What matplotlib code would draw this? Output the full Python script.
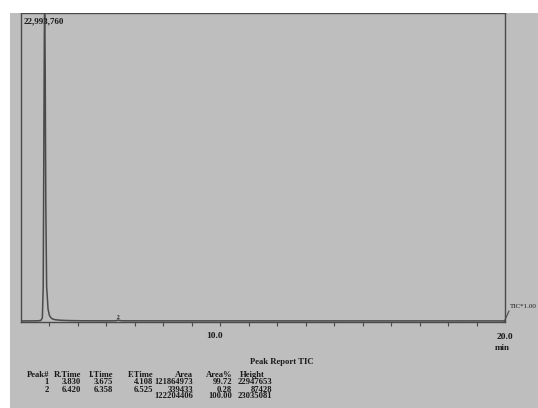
import matplotlib.pyplot as plt
from matplotlib.patches import Rectangle
from matplotlib.lines import Line2D

# chromatogram trace (min, intensity)
times = [3.00, 3.40, 3.60, 3.70, 3.75, 3.78, 3.80, 3.82, 3.83, 3.85, 3.87, 3.90,
         3.95, 4.00, 4.05, 4.10, 4.20, 4.40, 4.70, 5.20, 5.80, 6.30, 6.38, 6.42,
         6.46, 6.55, 7.50, 9.00, 11.0, 13.0, 15.0, 17.0, 19.0, 20.0]
tic = [20000, 22000, 30000, 60000, 250000, 2500000, 12000000, 21500000, 22947653,
       19000000, 9000000, 2600000, 900000, 420000, 260000, 170000, 110000, 70000,
       45000, 32000, 28000, 27000, 60000, 87428, 55000, 30000, 26000, 25000,
       24000, 23000, 22000, 22000, 21000, 21000]
y_top = 22993760

# peak report table
peak_no = ['1', '2']
r_time = ['3.830', '6.420']
i_time = ['3.675', '6.358']
f_time = ['4.108', '6.525']
area = ['121864973', '339433', '122204406']
area_pct = ['99.72', '0.28', '100.00']
height = ['22947653', '87428', '23035081']

W, H = 538, 408
bg = '#bebebe'
ink = '#1a1a1a'
line_c = '#4a4a4a'

fig = plt.figure(figsize=(W / 100, H / 100), dpi=100, facecolor=bg)

def px(x, y):
    return x / W, 1 - y / H

# white scan margins
fig.patches.append(Rectangle((0, 1 - 13 / H), 1, 13 / H, transform=fig.transFigure,
                             facecolor='white', edgecolor='none', zorder=0))
fig.patches.append(Rectangle((0, 0), 10 / W, 1, transform=fig.transFigure,
                             facecolor='white', edgecolor='none', zorder=0))

ax = fig.add_axes([21 / W, (H - 322) / H, 484 / W, 309 / H])
ax.set_facecolor(bg)
ax.plot(times, tic, color=line_c, lw=1.1)
ax.set_xlim(3.0, 20.0)
ax.set_ylim(-60000, y_top)
for s in ax.spines.values():
    s.set_color(line_c)
    s.set_linewidth(1.0)
ax.set_yticks([])
ax.set_xticks(range(4, 20))
ax.set_xticklabels([])
ax.tick_params(axis='x', direction='out', length=3, width=0.8, color=line_c)

serif = 'Liberation Serif'
fs = 6.2

ax.text(0.005, 0.985, '22,993,760', transform=ax.transAxes, ha='left', va='top',
        fontsize=6.5, family=serif, weight='bold', color=ink)
ax.text(6.42, 120000, '2', ha='center', va='bottom', fontsize=4, family=serif,
        weight='bold', color=ink)

fig.text(*px(215, 336), '10.0', ha='center', va='center', fontsize=6.8,
         family=serif, weight='bold', color=ink)
fig.text(*px(505, 337), '20.0', ha='center', va='center', fontsize=6.8,
         family=serif, weight='bold', color=ink)
fig.text(*px(502, 348), 'min', ha='center', va='center', fontsize=6.5,
         family=serif, weight='bold', color=ink)
fig.lines.append(Line2D([504 / W, 509 / W], [1 - 322 / H, 1 - 311 / H],
                        transform=fig.transFigure, color=line_c, lw=0.8))
fig.text(*px(510, 306), 'TIC*1.00', ha='left', va='center', fontsize=5.0,
         family=serif, color=ink)

# table
fig.text(*px(250, 362), 'Peak Report TIC', ha='left', va='center', fontsize=fs,
         family=serif, weight='bold', color=ink)
hy = 375
row_y = [382.5, 389.5, 396.5]
cols = [(49, 'Peak#', peak_no), (81, 'R.Time', r_time), (113, 'I.Time', i_time),
        (153, 'F.Time', f_time), (193, 'Area', area), (232, 'Area%', area_pct),
        (272, 'Height', height)]
for xr, head, vals in cols:
    hx = xr - 7 if head == 'Height' else xr
    fig.text(*px(hx, hy), head, ha='right', va='center', fontsize=fs, family=serif,
             weight='bold', color=ink)
    for v, yy in zip(vals, row_y):
        fig.text(*px(xr, yy), v, ha='right', va='center', fontsize=fs, family=serif,
                 weight='bold', color=ink)

fig.savefig('out.png', dpi=100, facecolor=bg)
